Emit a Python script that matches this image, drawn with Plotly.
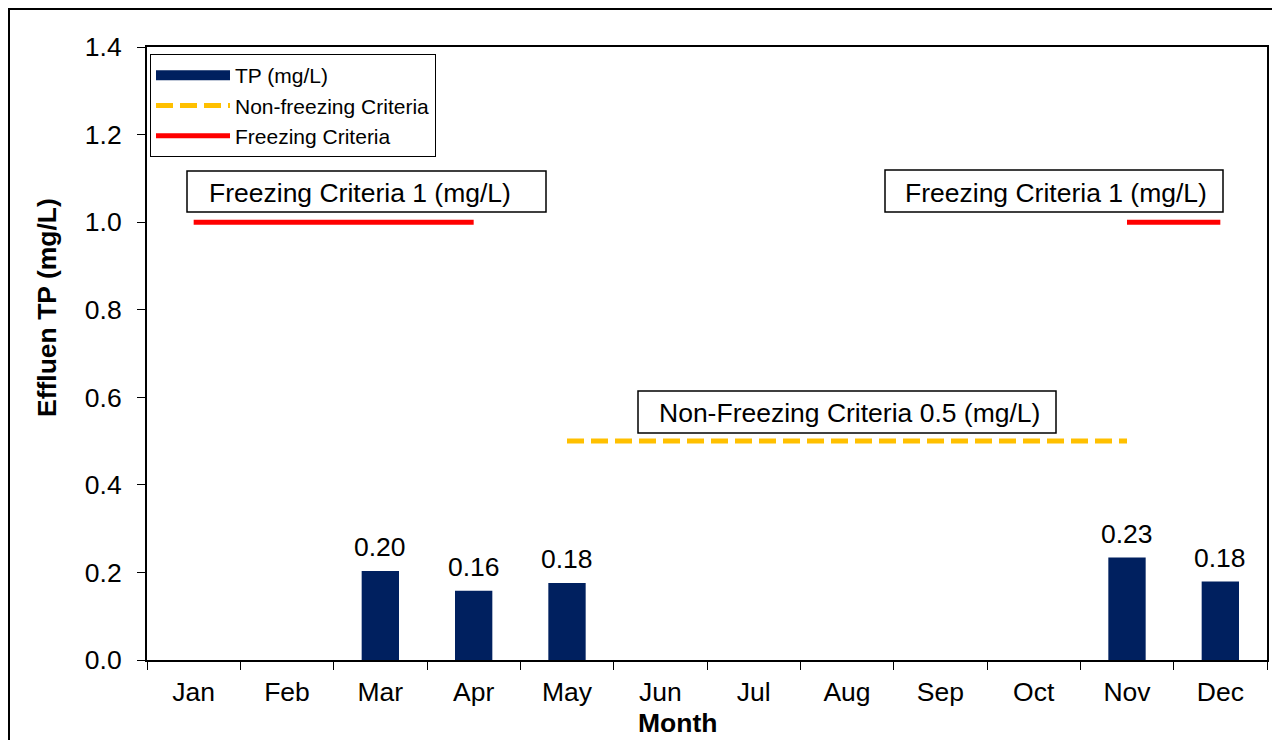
import plotly.graph_objects as go

months = ["Jan", "Feb", "Mar", "Apr", "May", "Jun", "Jul", "Aug", "Sep", "Oct", "Nov", "Dec"]
tp_values = [None, None, 0.203, 0.158, 0.176, None, None, None, None, None, 0.234, 0.179]
freezing = [1.0, 1.0, 1.0, 1.0, None, None, None, None, None, None, 1.0, 1.0]
non_freezing = [None, None, None, None, 0.5, 0.5, 0.5, 0.5, 0.5, 0.5, 0.5, None]
y_ticks = [0.0, 0.2, 0.4, 0.6, 0.8, 1.0, 1.2, 1.4]

FONT = "Arial, 'Liberation Sans', sans-serif"
OFF = 8  # page offset of the figure div
W, H = 1272, 732
L, R, T, B = 139, 13, 39, 80
PW, PH = W - L - R, H - T - B
FS = 26.5


def px(x):
    # page pixel -> paper x
    return (x - OFF - L) / PW


def py(y):
    # page pixel -> paper y
    return (OFF + H - B - y) / PH


fig = go.Figure()
fig.add_trace(go.Bar(
    x=months, y=tp_values, name="TP (mg/L)",
    marker=dict(color="#00205F", line=dict(width=0)),
    width=0.4,
    showlegend=False, legendgroup="tp",
))
# legend entry for the bars (wide navy swatch like the original)
fig.add_trace(go.Scatter(
    x=[months[0]], y=[None], name="TP (mg/L)", mode="lines",
    line=dict(color="#00205F", width=12), legendgroup="tp", hoverinfo="skip",
))
fig.add_trace(go.Scatter(
    x=months, y=non_freezing, name="Non-freezing Criteria", mode="lines",
    line=dict(color="#FFC000", width=5, dash="17px,7px"), connectgaps=False,
))
fig.add_trace(go.Scatter(
    x=months, y=freezing, name="Freezing Criteria", mode="lines",
    line=dict(color="#FF0000", width=5), connectgaps=False,
))

shapes = [
    # outer chart border
    dict(type="rect", xref="paper", yref="paper", x0=px(9), x1=px(1278), y0=py(9), y1=py(760),
         line=dict(color="black", width=2), fillcolor="rgba(0,0,0,0)", layer="below"),
    # annotation boxes
    dict(type="rect", xref="paper", yref="paper", x0=px(187), x1=px(546), y0=py(171), y1=py(212),
         line=dict(color="black", width=1.5), fillcolor="white"),
    dict(type="rect", xref="paper", yref="paper", x0=px(885), x1=px(1223), y0=py(170), y1=py(212),
         line=dict(color="black", width=1.5), fillcolor="white"),
    dict(type="rect", xref="paper", yref="paper", x0=px(638), x1=px(1056), y0=py(391), y1=py(433),
         line=dict(color="black", width=1.5), fillcolor="white"),
]

annotations = [
    dict(text="Freezing Criteria 1 (mg/L)", xref="paper", yref="paper", x=px(360), y=py(193),
         showarrow=False, xanchor="center", yanchor="middle", font=dict(size=FS, family=FONT, color="black")),
    dict(text="Freezing Criteria 1 (mg/L)", xref="paper", yref="paper", x=px(1056), y=py(193),
         showarrow=False, xanchor="center", yanchor="middle", font=dict(size=FS, family=FONT, color="black")),
    dict(text="Non-Freezing Criteria 0.5 (mg/L)", xref="paper", yref="paper", x=px(849), y=py(413),
         showarrow=False, xanchor="center", yanchor="middle", font=dict(size=FS, family=FONT, color="black")),
    # axis titles (placed as in the original, off-centre)
    dict(text="<b>Month</b>", xref="paper", yref="paper", x=px(677), y=py(723),
         showarrow=False, xanchor="center", yanchor="middle", font=dict(size=FS, family=FONT, color="black")),
    dict(text="<b>Effluen TP (mg/L)</b>", xref="paper", yref="paper", x=px(47), y=py(308),
         showarrow=False, xanchor="center", yanchor="middle", textangle=-90,
         font=dict(size=FS, family=FONT, color="black")),
]
# data labels above bars
for m, v in zip(months, tp_values):
    if v is not None:
        annotations.append(dict(
            text=f"{v:.2f}", x=m, y=v, xref="x", yref="y", showarrow=False,
            xanchor="center", yanchor="middle", yshift=24,
            font=dict(size=FS, family=FONT, color="black"),
        ))

fig.update_layout(
    width=W, height=H,
    margin=dict(l=L, r=R, t=T, b=B),
    paper_bgcolor="white", plot_bgcolor="white",
    font=dict(family=FONT, size=FS, color="black"),
    showlegend=True,
    legend=dict(
        x=px(150), y=py(54), xanchor="left", yanchor="top",
        bordercolor="black", borderwidth=1, bgcolor="white",
        font=dict(size=21, family=FONT, color="black"),
        itemwidth=74, tracegroupgap=0,
    ),
    xaxis=dict(
        type="category", categoryorder="array", categoryarray=months,
        range=[-0.5, 11.5],
        showline=True, linecolor="black", linewidth=2, mirror=True,
        ticks="outside", tickson="boundaries", ticklen=8, tickcolor="black", tickwidth=1,
        ticklabelstandoff=7,
        showgrid=False, tickfont=dict(size=FS, family=FONT),
    ),
    yaxis=dict(
        range=[0, 1.4], tickvals=y_ticks, tickformat=".1f",
        showline=True, linecolor="black", linewidth=2, mirror=True,
        ticks="outside", ticklen=8, tickcolor="black", tickwidth=1,
        ticklabelstandoff=10,
        showgrid=False, zeroline=False, tickfont=dict(size=FS, family=FONT),
    ),
    shapes=shapes,
    annotations=annotations,
    bargap=0.6,
)

fig.write_html("out.html")
